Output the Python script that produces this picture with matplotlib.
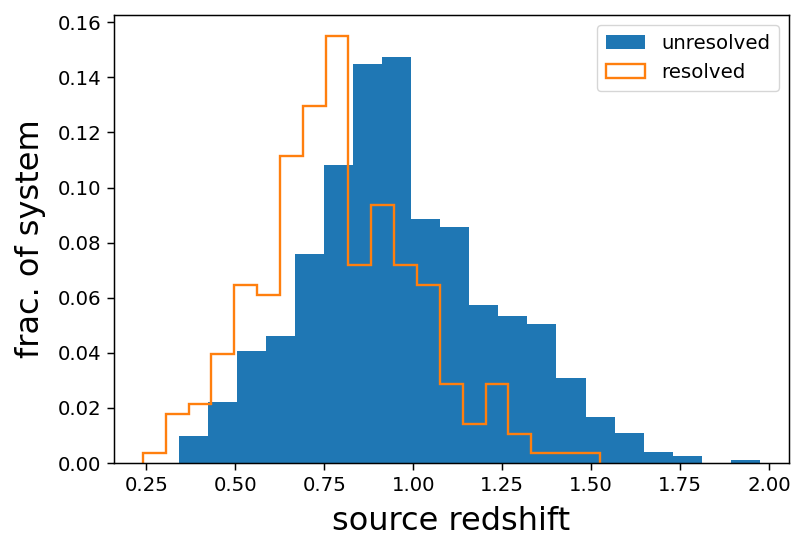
import matplotlib
matplotlib.use("Agg")
import matplotlib.pyplot as plt
import numpy as np

# unresolved histogram: 20 bins from 0.341 to 1.974
unres_lo, unres_hi, unres_nbins = 0.341, 1.974, 20
unres_frac = [0.0097, 0.0223, 0.0405, 0.0462, 0.0759, 0.1082, 0.1450, 0.1475,
              0.0885, 0.0857, 0.0575, 0.0533, 0.0506, 0.0307, 0.0167, 0.0110,
              0.0040, 0.0027, 0.0000, 0.0012]

# resolved histogram: 20 bins from 0.240 to 1.524
res_lo, res_hi, res_nbins = 0.240, 1.524, 20
res_frac = [0.0035, 0.0178, 0.0214, 0.0395, 0.0646, 0.0611, 0.1116, 0.1295,
            0.1549, 0.0719, 0.0935, 0.0719, 0.0646, 0.0286, 0.0143, 0.0286,
            0.0107, 0.0035, 0.0035, 0.0035]

xticks = [0.25, 0.50, 0.75, 1.00, 1.25, 1.50, 1.75, 2.00]
yticks = [0.00, 0.02, 0.04, 0.06, 0.08, 0.10, 0.12, 0.14, 0.16]

unres_edges = np.linspace(unres_lo, unres_hi, unres_nbins + 1)
res_edges = np.linspace(res_lo, res_hi, res_nbins + 1)

fig = plt.figure(figsize=(8.06, 5.51), dpi=100)
ax = fig.add_axes([0.1414, 0.1597, 0.8375, 0.813])

ax.hist(unres_edges[:-1], bins=unres_edges, weights=unres_frac,
        color="#1f77b4", label="unresolved")
ax.hist(res_edges[:-1], bins=res_edges, weights=res_frac,
        histtype="step", color="#ff7f0e", linewidth=1.7, label="resolved")

ax.set_xlim(0.1587, 2.056)
ax.set_ylim(0, 0.1626)
ax.set_xticks(xticks)
ax.set_xticklabels([f"{t:.2f}" for t in xticks])
ax.set_yticks(yticks)
ax.set_yticklabels([f"{t:.2f}" for t in yticks])

ax.tick_params(labelsize=14.2, length=4.7, width=1.07, pad=4.5)
for s in ax.spines.values():
    s.set_linewidth(1.07)

ax.set_xlabel("source redshift", fontsize=23, labelpad=8)
ax.set_ylabel("frac. of system", fontsize=23, labelpad=8)

ax.legend(loc="upper right", fontsize=14.2, borderpad=0.45, handlelength=2.0)

fig.savefig("out.png", dpi=100)
